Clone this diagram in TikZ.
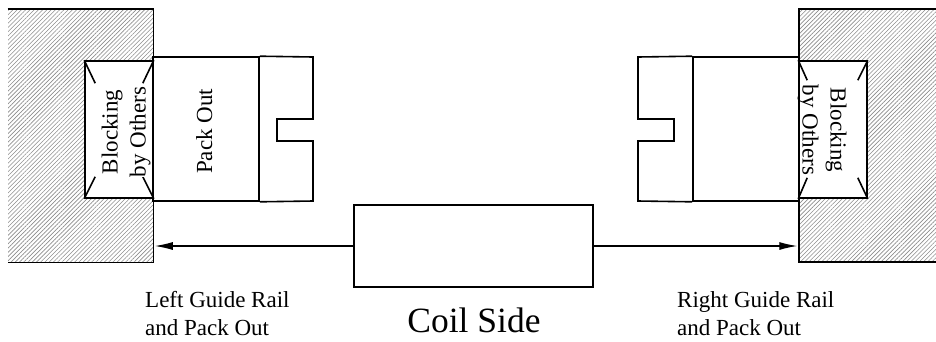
\documentclass[tikz,border=0pt]{standalone}
\usepackage{fontspec}
\setmainfont{Liberation Serif}
\usetikzlibrary{arrows.meta,patterns.meta}
\begin{document}
\begin{tikzpicture}[x=1pt,y=-1pt,
  thickline/.style={line width=1.6pt},
  wall/.style={rectangle, inner sep=0pt, pattern={Lines[angle=45,distance=3pt,line width=0.6pt]}, pattern color=black!45},
  blockbox/.style={rectangle, draw, fill=white, line width=1.6pt, inner sep=0pt, minimum width=68pt, minimum height=137pt},
  packbox/.style={rectangle, draw, line width=1.6pt, inner sep=0pt},
  lbl/.style={font=\fontsize{23}{28}\selectfont, inner sep=0pt},
  rottxt/.style={lbl, align=center, fill=white, inner xsep=0pt, inner ysep=4pt},
  rail/.style={line width=1.2pt, -{Latex[length=18pt,width=8pt]}},
]
\useasboundingbox (0,0) rectangle (936,341);
% walls
\node[wall, minimum width=145pt, minimum height=253pt] (wallL) at (80.5,135.5) {};
\node[wall, minimum width=137pt, minimum height=253pt] (wallR) at (867.5,135.5) {};
\draw[thickline] (wallL.north west) -- (wallL.north east) -- (wallL.south east) -- (wallL.south west);
\draw[thickline] (wallR.north east) -- (wallR.north west) -- (wallR.south west) -- (wallR.south east);
% blocking boxes
\node[blockbox] (blkL) at (119,129.5) {};
\node[blockbox] (blkR) at (833,129.5) {};
\draw[thickline] (blkL.north west) -- ++(11,23);
\draw[thickline] (blkL.north east) -- ++(-11,23);
\draw[thickline] (blkL.south west) -- ++(11,-22);
\draw[thickline] (blkL.south east) -- ++(-11,-22);
\draw[thickline] (blkR.north west) -- ++(9,20);
\draw[thickline] (blkR.north east) -- ++(-10,20);
\draw[thickline] (blkR.south west) -- ++(9,-21);
\draw[thickline] (blkR.south east) -- ++(-10,-21);
\node[rottxt, rotate=90] (txtBL) at (126,132) {Blocking\\by Others};
\node[rottxt, rotate=-90] (txtBR) at (822,130) {Blocking\\by Others};
% pack outs
\node[packbox, minimum width=106pt, minimum height=144pt] (packL) at (206,129) {};
\draw[thickline] (packL.north east) -- (313,57) -- (313,119) -- (277,119) -- (277,141) -- (313,141) -- (313,201) -- (packL.south east);
\node[lbl, rotate=90, anchor=base] (packtxt) at (212,131.5) {Pack Out};
\node[packbox, minimum width=106pt, minimum height=144pt] (packR) at (746,129) {};
\draw[thickline] (packR.north west) -- (638,57) -- (638,119) -- (674,119) -- (674,141) -- (638,141) -- (638,201) -- (packR.south west);
% coil
\node[packbox, minimum width=239pt, minimum height=82pt] (coil) at (473.5,246) {};
\draw[rail, shorten >=1.5pt] (coil.west) -- (coil.west -| wallL.east);
\draw[rail, shorten >=1.5pt] (coil.east) -- (coil.east -| wallR.west);
% labels
\node[lbl, align=left, anchor=base west] (lblL) at (145,335) {Left Guide Rail\\and Pack Out};
\node[lbl, align=left, anchor=base west] (lblR) at (677,335) {Right Guide Rail\\and Pack Out};
\node[font=\fontsize{35.5}{40}\selectfont, inner sep=0pt, anchor=base] (coiltxt) at (474,332) {Coil Side};
\end{tikzpicture}
\end{document}
